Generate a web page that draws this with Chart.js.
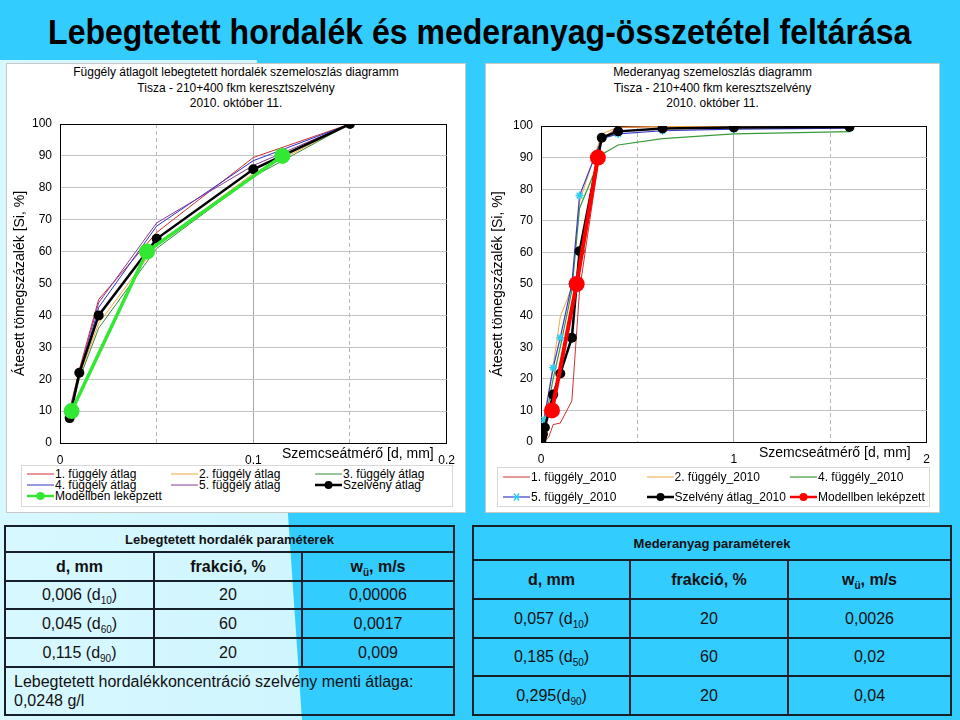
<!DOCTYPE html>
<html>
<head>
<meta charset="utf-8">
<script src="https://cdn.jsdelivr.net/npm/chart.js@4.4.1/dist/chart.umd.min.js"></script>
<style>
  body { margin: 0; width: 960px; height: 720px; overflow: hidden; background: #33ccff;
         font-family: "Liberation Sans", Arial, sans-serif; position: relative; }
  .light { position: absolute; left: 0; top: 0; width: 960px; height: 720px;
           background: linear-gradient(90deg, #d8f8ff, #bdeffc);
           clip-path: polygon(0 60px, 257px 60px, 302px 720px, 0 720px); }
  h1 { position: absolute; left: 0; top: 10px; width: 960px; margin: 0; text-align: center;
       font-family: "Liberation Sans", Arial; font-weight: bold;
       font-size: 35px; line-height: 44px; color: #000; transform: scaleX(0.915); transform-origin: 477px 0; }
  .panel { position: absolute; top: 63px; height: 450px; background: #fff; border: 1px solid #c8c8c8; box-sizing: border-box; }
  .ctitle { position: absolute; top: 65px; text-align: center; font-size: 12px; line-height: 15.5px; }
  canvas { position: absolute; }
  .xtitle { position: absolute; font-size: 14px; line-height: 16px; white-space: nowrap; }
  .legend { position: absolute; background: #fff; border: 1px solid #d8d8d8; box-sizing: border-box; }
  .li { position: absolute; font-size: 12px; line-height: 12px; white-space: nowrap; }
  .li svg { position: absolute; left: 0; top: 1px; }
  table { position: absolute; border-collapse: collapse; table-layout: fixed; }
  td { border: 2px solid #15202b; text-align: center; font-size: 16px; padding: 0; color: #111; }
  td.h { font-size: 13px; font-weight: bold; }
  td.b { font-weight: bold; font-size: 16px; }
  sub { font-size: 10px; vertical-align: -4px; line-height: 0; }
</style>
</head>
<body>
<div class="light"></div>
<h1>Lebegtetett hordalék és mederanyag-összetétel feltárása</h1>

<div class="panel" style="left:6px; width:460px;"></div>
<div class="panel" style="left:485px; width:455px;"></div>

<div class="ctitle" style="left:6px; width:460px;">Függély átlagolt lebegtetett hordalék szemeloszlás diagramm<br>Tisza - 210+400 fkm keresztszelvény<br>2010. október 11.</div>
<div class="ctitle" style="left:485px; width:455px;">Mederanyag szemeloszlás diagramm<br>Tisza - 210+400 fkm keresztszelvény<br>2010. október 11.</div>

<canvas id="c1" width="458" height="404" style="left:7px; top:64px;"></canvas>
<canvas id="c2" width="455" height="404" style="left:485px; top:64px;"></canvas>

<div class="xtitle" style="left:282px; top:445px;">Szemcseátmérő [d, mm]</div>
<div class="xtitle" style="left:759px; top:444px;">Szemcseátmérő [d, mm]</div>

<div class="legend" id="lg1" style="left:21px; top:465px; width:432px; height:42px;"></div>
<div class="legend" id="lg2" style="left:497px; top:467px; width:433px; height:40px;"></div>

<table style="left:4px; top:525px; width:449px; height:189px;">
  <colgroup><col style="width:149px"><col style="width:148px"><col style="width:152px"></colgroup>
  <tr style="height:26px"><td class="h" colspan="3">Lebegtetett hordalék paraméterek</td></tr>
  <tr style="height:29px"><td class="b">d, mm</td><td class="b">frakció, %</td><td class="b">w<sub>ü</sub>, m/s</td></tr>
  <tr style="height:28px"><td>0,006 (d<sub>10</sub>)</td><td>20</td><td>0,00006</td></tr>
  <tr style="height:29px"><td>0,045 (d<sub>60</sub>)</td><td>60</td><td>0,0017</td></tr>
  <tr style="height:29px"><td>0,115 (d<sub>90</sub>)</td><td>20</td><td>0,009</td></tr>
  <tr style="height:48px"><td colspan="3" style="text-align:left; padding-left:8px; line-height:19px;">Lebegtetett hordalékkoncentráció szelvény menti átlaga:<br>0,0248 g/l</td></tr>
</table>

<table style="left:472px; top:525px; width:478px; height:189px;">
  <colgroup><col style="width:157px"><col style="width:158px"><col style="width:163px"></colgroup>
  <tr style="height:34px"><td class="h" colspan="3">Mederanyag paraméterek</td></tr>
  <tr style="height:39px"><td class="b">d, mm</td><td class="b">frakció, %</td><td class="b">w<sub>ü</sub>, m/s</td></tr>
  <tr style="height:39px"><td>0,057 (d<sub>10</sub>)</td><td>20</td><td>0,0026</td></tr>
  <tr style="height:38px"><td>0,185 (d<sub>50</sub>)</td><td>60</td><td>0,02</td></tr>
  <tr style="height:39px"><td>0,295(d<sub>90</sub>)</td><td>20</td><td>0,04</td></tr>
</table>

<script>
// --- lebegtetett hordalek (left chart) ---
var leftX = [0.005, 0.01, 0.02, 0.05, 0.1, 0.15];
var left1 = [10.5, 23, 45, 66, 89.5, 100];
var left2 = [9, 21, 37.5, 62, 84.5, 100];
var left3 = [9, 20, 36, 61, 83.5, 100];
var left4 = [9, 21, 42.5, 68, 88.5, 100];
var left5 = [10, 22, 44, 69, 87, 100];
var leftAvg = [7.8, 22, 40, 64, 85.8, 100];
var leftModelX = [0.006, 0.045, 0.115];
var leftModel = [10, 60, 90];
var leftNames = ['1. függély átlag', '2. függély átlag', '3. függély átlag', '4. függély átlag',
                 '5. függély átlag', 'Szelvény átlag', 'Modellben leképzett'];

// --- mederanyag (right chart) ---
var r1X = [0, 0.02, 0.04, 0.063, 0.1, 0.16, 0.2, 0.315, 0.4, 0.63, 1.0, 1.6];
var r1 = [0, 0.5, 1.5, 5.5, 6, 13, 48, 96, 99.5, 99.8, 99.9, 100];
var r2X = [0, 0.01, 0.02, 0.063, 0.1, 0.16, 0.2, 0.315, 0.4, 0.63, 1.0, 1.6];
var r2 = [0, 5, 9, 24, 39.6, 49, 76, 97.5, 99.6, 99.8, 99.9, 100];
var r4X = [0, 0.01, 0.02, 0.063, 0.1, 0.16, 0.2, 0.315, 0.4, 0.63, 1.0, 1.6];
var r4 = [0, 3, 6, 20, 30, 48, 74, 91, 94, 96, 97.5, 98.2];
var r5X = [0, 0.016, 0.063, 0.1, 0.16, 0.2, 0.315, 0.4, 0.63, 1.0, 1.6];
var r5 = [0, 7, 23.5, 33, 50, 78, 96, 97.5, 98.5, 99, 99.3];
var rAvgX = [0.002, 0.005, 0.01, 0.02, 0.063, 0.1, 0.16, 0.2, 0.315, 0.4, 0.63, 1.0, 1.6];
var rAvg = [0.6, 1.5, 2.5, 4.6, 15, 21.7, 33, 60.4, 96.3, 98.3, 99.2, 99.5, 99.7];
var rModelX = [0.057, 0.185, 0.295];
var rModel = [10, 50, 90];
var rightNames = ['1. függély_2010', '2. függély_2010', '4. függély_2010', '5. függély_2010',
                  'Szelvény átlag_2010', 'Modellben leképzett'];

function pts(xs, ys) {
    return xs.map(function (x, i) { return {x: x, y: ys[i]}; });
}

function line(label, xs, ys, color, width, radius, order, pcolor, pstyle) {
    return {
        label: label, data: pts(xs, ys), borderColor: color, borderWidth: width,
        pointRadius: radius, pointBackgroundColor: pcolor || color, pointBorderColor: pcolor || color,
        pointStyle: pstyle || 'circle', pointBorderWidth: pstyle === 'star' ? 1.5 : 0,
        tension: 0, fill: false, order: order
    };
}

function options(xmax, step, padLeft, yWidth, padTop, padRight, xHeight) {
    var tickFont = {family: 'Liberation Sans', size: 12};
    return {
        responsive: false, animation: false,
        layout: {padding: {left: padLeft, top: padTop, right: padRight, bottom: 0}},
        plugins: {legend: {display: false}, title: {display: false}, tooltip: {enabled: false}},
        scales: {
            x: {
                type: 'linear', min: 0, max: xmax, position: 'bottom',
                ticks: {
                    stepSize: step, autoSkip: false, maxRotation: 0, padding: 10, color: '#000', font: tickFont,
                    callback: function (v) {
                        var k = Math.round(v / step);
                        return k % 2 === 0 ? String(+(v).toFixed(2)) : '';
                    }
                },
                grid: {
                    drawTicks: false,
                    color: function (c) {
                        var k = Math.round(c.tick.value / step);
                        if (k === 4) return '#000';
                        return k === 2 ? '#a8a8a8' : 'rgba(0,0,0,0)';
                    }
                },
                border: {color: '#000', width: 1},
                afterFit: function (s) { s.height = xHeight; }
            },
            xd: {
                type: 'linear', min: 0, max: xmax, position: 'bottom',
                ticks: {display: false, stepSize: step},
                grid: {
                    drawTicks: false,
                    color: function (c) {
                        return Math.round(c.tick.value / step) % 2 === 1 ? '#b8b8b8' : 'rgba(0,0,0,0)';
                    }
                },
                border: {display: false, dash: [4, 3]},
                afterFit: function (s) { s.height = 0; }
            },
            y: {
                min: 0, max: 100,
                ticks: {stepSize: 10, padding: 8, color: '#000', font: tickFont},
                grid: {
                    drawTicks: false,
                    color: function (c) { return c.tick.value === 100 ? '#000' : '#c4c4c4'; }
                },
                border: {color: '#000', width: 1},
                title: {display: true, text: 'Átesett tömegszázalék [Si, %]', color: '#000',
                        font: {family: 'Liberation Sans', size: 14}, padding: 0},
                afterFit: function (s) { s.width = yWidth; }
            }
        }
    };
}

var leftSets = [
    line(leftNames[0], leftX, left1, '#cc3030', 1, 0, 6),
    line(leftNames[1], leftX, left2, '#eea83a', 1, 0, 5),
    line(leftNames[2], leftX, left3, '#3a8a3a', 1, 0, 4),
    line(leftNames[3], leftX, left4, '#3030c8', 1, 0, 3),
    line(leftNames[4], leftX, left5, '#8a3a9a', 1, 0, 2),
    line(leftNames[5], leftX, leftAvg, '#000', 2.5, 5, 1),
    line(leftNames[6], leftModelX, leftModel, '#33e833', 3.5, 8, 0)
];

var rightSets = [
    line(rightNames[0], r1X, r1, '#cc3333', 1, 0, 6),
    line(rightNames[1], r2X, r2, '#f0a840', 1, 0, 5),
    line(rightNames[2], r4X, r4, '#3a9a3a', 1.2, 0, 4),
    line(rightNames[3], r5X, r5, '#3a3acc', 1.2, 4, 3, '#33ccee', 'star'),
    line(rightNames[4], rAvgX, rAvg, '#000', 2.5, 5, 1),
    line(rightNames[5], rModelX, rModel, '#ff0000', 4, 8, 0)
];

new Chart(document.getElementById('c1'), {
    type: 'line', data: {datasets: leftSets},
    options: options(0.2, 0.05, 5, 48, 60, 18, 25)
});
new Chart(document.getElementById('c2'), {
    type: 'line', data: {datasets: rightSets},
    options: options(2, 0.5, 5, 51, 62, 13, 26)
});

// legends built from the datasets
function sample(ds) {
    var s = '<svg width="28" height="10"><line x1="0" y1="5" x2="27" y2="5" stroke="' + ds.borderColor +
        '" stroke-width="' + Math.min(ds.borderWidth, 2.5) + '"/>';
    if (ds.pointStyle === 'star') {
        s += '<g stroke="' + ds.pointBackgroundColor + '" stroke-width="1.4"><line x1="10" y1="5" x2="17" y2="5"/>' +
             '<line x1="11" y1="1.5" x2="16" y2="8.5"/><line x1="11" y1="8.5" x2="16" y2="1.5"/></g>';
    } else if (ds.pointRadius > 0) {
        s += '<circle cx="13.5" cy="5" r="4" fill="' + ds.pointBackgroundColor + '"/>';
    }
    return s + '</svg>';
}
function legend(id, sets, cols, colStep, rowTop, rowStep) {
    var el = document.getElementById(id);
    sets.forEach(function (ds, i) {
        var d = document.createElement('div');
        d.className = 'li';
        d.style.left = (cols + (i % 3) * colStep) + 'px';
        d.style.top = (rowTop + Math.floor(i / 3) * rowStep) + 'px';
        d.innerHTML = sample(ds) + '<span style="margin-left:28px">' + ds.label + '</span>';
        el.appendChild(d);
    });
}
legend('lg1', leftSets, 5, 144, 2, 11);
legend('lg2', rightSets, 5, 143.5, 3, 20);
</script>
</body>
</html>
